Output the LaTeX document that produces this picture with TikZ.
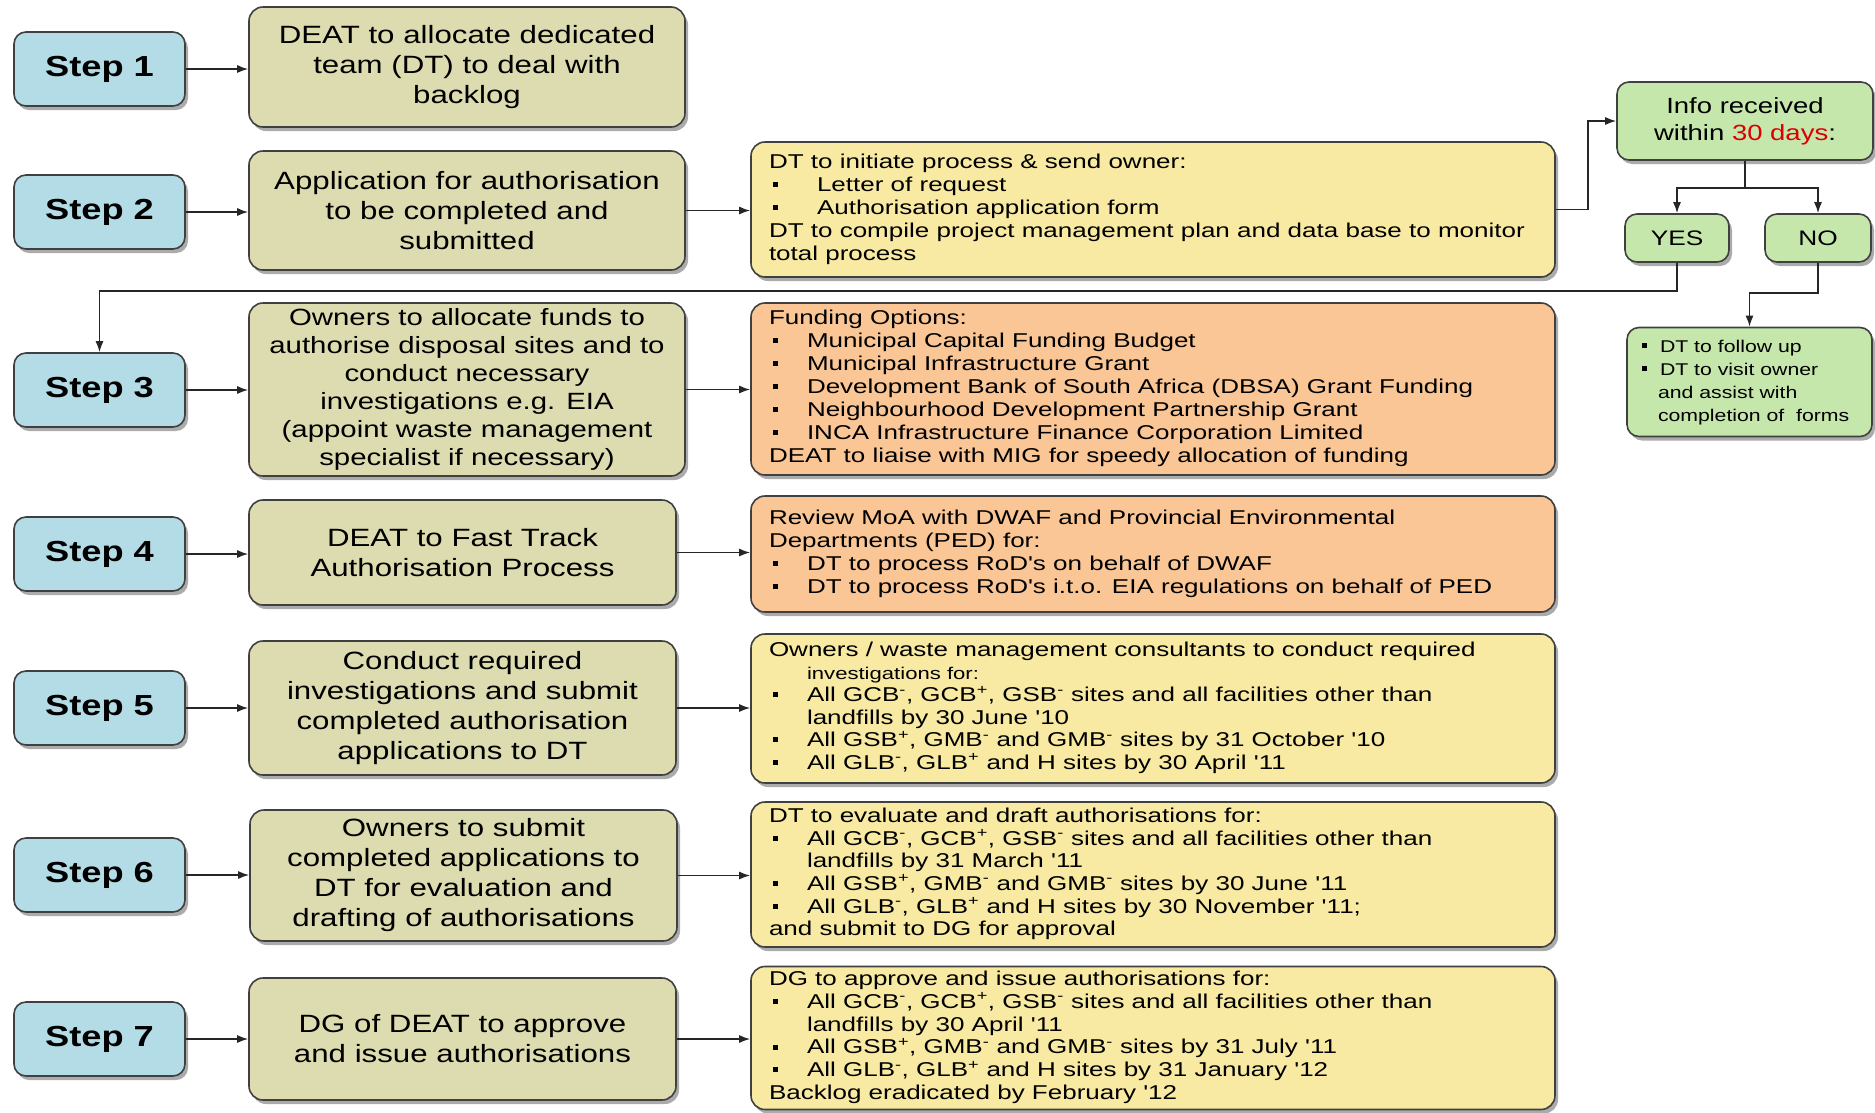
\documentclass[tikz,border=0pt]{standalone}
\usepackage{fontspec}
\setmainfont{Liberation Sans}[FakeStretch=1.25]
\newfontfamily\rfont{Liberation Sans}[FakeStretch=1.3]
\usetikzlibrary{shadows,arrows.meta,calc}
\definecolor{stepc}{RGB}{180,220,230}
\definecolor{midc}{RGB}{221,220,176}
\definecolor{yelc}{RGB}{248,234,162}
\definecolor{orac}{RGB}{250,198,150}
\definecolor{grnc}{RGB}{198,231,172}
\definecolor{bordc}{RGB}{64,64,64}
\newcommand\bu[2][38pt]{\makebox[#1][l]{\hspace{#2}\raisebox{0.22em}{\rule{5pt}{5pt}}}}
\newcommand\ind{\hspace*{38pt}}
\newcommand\smi{\textsuperscript{-}}
\newcommand\spl{\textsuperscript{+}}
\newcommand\lbox[2]{\makebox[#1][l]{\begin{tabular}{@{}l@{}}#2\end{tabular}}}
\tikzset{
  base/.style={draw=bordc, line width=1.6pt, rounded corners=14pt, inner sep=0pt,
    drop shadow={shadow xshift=3pt, shadow yshift=-4pt, opacity=0.55, fill=black!60}},
  stepbox/.style={base, fill=stepc, rounded corners=12pt, minimum width=171pt, minimum height=74pt,
    font=\fontsize{29}{34}\selectfont\bfseries},
  midbox/.style={base, fill=midc, align=center, font=\fontsize{25}{30}\selectfont},
  rbox/.style={base, minimum width=804pt, font=\rfont\fontsize{20}{23}\selectfont},
  gbox/.style={base, fill=grnc, rounded corners=12pt},
  conn/.style={-{Latex[length=11pt,width=8pt]}, line width=1.5pt, draw=black!85},
  line/.style={line width=1.5pt, draw=black!85}
}
\begin{document}
\begin{tikzpicture}[x=1pt,y=-1pt]
\useasboundingbox (0,0) rectangle (1875,1112);
% step boxes
\node[stepbox] (s1) at (99.5,69) {Step 1};
\node[stepbox] (s2) at (99.5,212) {Step 2};
\node[stepbox] (s3) at (99.5,390) {Step 3};
\node[stepbox] (s4) at (99.5,554) {Step 4};
\node[stepbox] (s5) at (99.5,708) {Step 5};
\node[stepbox] (s6) at (99.5,875) {Step 6};
\node[stepbox] (s7) at (99.5,1039) {Step 7};
% middle boxes
\node[midbox, minimum width=436pt, minimum height=120pt] (m1) at (467,67)
  {DEAT to allocate dedicated\\team (DT) to deal with\\backlog};
\node[midbox, minimum width=436pt, minimum height=119pt] (m2) at (467,210.5)
  {Application for authorisation\\to be completed and\\submitted};
\node[midbox, minimum width=436pt, minimum height=173pt, font=\fontsize{23.5}{28}\selectfont] (m3) at (467,389.5)
  {Owners to allocate funds to\\authorise disposal sites and to\\conduct necessary\\investigations e.g. EIA\\(appoint waste management\\specialist if necessary)};
\node[midbox, minimum width=427pt, minimum height=105pt] (m4) at (462.5,552.5)
  {DEAT to Fast Track\\Authorisation Process};
\node[midbox, minimum width=427pt, minimum height=134pt] (m5) at (462.5,708)
  {Conduct required\\investigations and submit\\completed authorisation\\applications to DT};
\node[midbox, minimum width=427pt, minimum height=131pt] (m6) at (463.5,875.5)
  {Owners to submit\\completed applications to\\DT for evaluation and\\drafting of authorisations};
\node[midbox, minimum width=427pt, minimum height=122pt] (m7) at (462.5,1039)
  {DG of DEAT to approve\\and issue authorisations};
% right boxes
\node[rbox, fill=yelc, minimum height=135pt] (r2) at (1153,209.5)
  {\lbox{768pt}{DT to initiate process \& send owner:\\
  \bu[48pt]{4pt}Letter of request\\
  \bu[48pt]{4pt}Authorisation application form\\
  DT to compile project management plan and data base to monitor\\
  total process}};
\node[rbox, fill=orac, minimum height=172pt] (r3) at (1153,389)
  {\lbox{768pt}{Funding Options:\\
  \bu{4pt}Municipal Capital Funding Budget\\
  \bu{4pt}Municipal Infrastructure Grant\\
  \bu{4pt}Development Bank of South Africa (DBSA) Grant Funding\\
  \bu{4pt}Neighbourhood Development Partnership Grant\\
  \bu{4pt}INCA Infrastructure Finance Corporation Limited\\
  DEAT to liaise with MIG for speedy allocation of funding}};
\node[rbox, fill=orac, minimum height=116pt] (r4) at (1153,554)
  {\lbox{768pt}{Review MoA with DWAF and Provincial Environmental\\
  Departments (PED) for:\\
  \bu{4pt}DT to process RoD's on behalf of DWAF\\
  \bu{4pt}DT to process RoD's i.t.o. EIA regulations on behalf of PED}};
\node[rbox, fill=yelc, minimum height=149pt, font=\rfont\fontsize{20}{22.5}\selectfont] (r5) at (1153,708.5)
  {\lbox{768pt}{Owners / waste management consultants to conduct required\\
  \ind{\fontsize{17}{22}\selectfont investigations for:}\\
  \bu{4pt}All GCB\smi, GCB\spl, GSB\smi{} sites and all facilities other than\\
  \ind landfills by 30 June '10\\
  \bu{4pt}All GSB\spl, GMB\smi{} and GMB\smi{} sites by 31 October '10\\
  \bu{4pt}All GLB\smi, GLB\spl{} and H sites by 30 April '11}};
\node[rbox, fill=yelc, minimum height=145pt, font=\rfont\fontsize{20}{22.7}\selectfont] (r6) at (1153,874.5)
  {\lbox{768pt}{DT to evaluate and draft authorisations for:\\
  \bu{4pt}All GCB\smi, GCB\spl, GSB\smi{} sites and all facilities other than\\
  \ind landfills by 31 March '11\\
  \bu{4pt}All GSB\spl, GMB\smi{} and GMB\smi{} sites by 30 June '11\\
  \bu{4pt}All GLB\smi, GLB\spl{} and H sites by 30 November '11;\\
  and submit to DG for approval}};
\node[rbox, fill=yelc, minimum height=143pt, font=\rfont\fontsize{20}{22.7}\selectfont] (r7) at (1153,1038)
  {\lbox{768pt}{DG to approve and issue authorisations for:\\
  \bu{4pt}All GCB\smi, GCB\spl, GSB\smi{} sites and all facilities other than\\
  \ind landfills by 30 April '11\\
  \bu{4pt}All GSB\spl, GMB\smi{} and GMB\smi{} sites by 31 July '11\\
  \bu{4pt}All GLB\smi, GLB\spl{} and H sites by 31 January '12\\
  Backlog eradicated by February '12}};
% green boxes
\node[gbox, minimum width=256pt, minimum height=78pt, align=center, font=\fontsize{22}{27}\selectfont] (info) at (1745,121)
  {Info received\\within \textcolor{red!85!black}{30 days}:};
\node[gbox, minimum width=104pt, minimum height=48pt, font=\fontsize{21}{25}\selectfont] (yes) at (1677,238) {YES};
\node[gbox, minimum width=106pt, minimum height=48pt, font=\fontsize{21}{25}\selectfont] (no) at (1818,238) {NO};
\node[gbox, minimum width=245pt, minimum height=109pt, font=\fontsize{17}{23}\selectfont] (fu) at (1749.5,382)
  {\lbox{221pt}{\bu[21pt]{3pt}DT to follow up\\
  \bu[21pt]{3pt}DT to visit owner\\
  \hspace*{19pt}and assist with\\
  \hspace*{19pt}completion of~ forms}};
% connectors
\foreach \i in {1,...,7} {\draw[conn] (s\i.east) -- (s\i.east -| m\i.west);}
\foreach \i in {2,...,7} {\draw[conn] (m\i.east) -- (m\i.east -| r\i.west);}
\draw[conn] (r2.east) -- ++(32,0) |- (info.west);
\draw[line] (info.south) -- ++(0,27) coordinate (split);
\draw[conn] (split) -| (yes.north);
\draw[conn] (split) -| (no.north);
\draw[conn] (yes.south) -- ++(0,28) -| (s3.north);
\draw[conn] (no.south) -- ++(0,30) -| (fu.north);
\end{tikzpicture}
\end{document}
